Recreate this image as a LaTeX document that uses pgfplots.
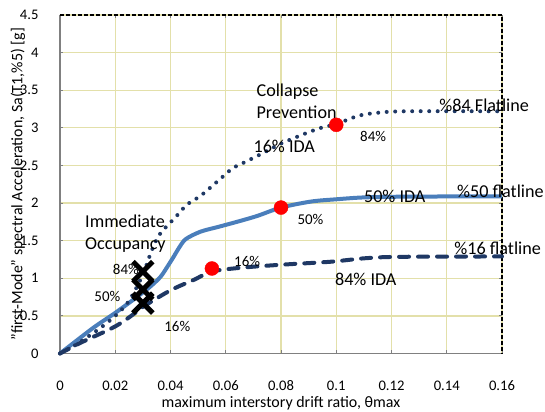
\documentclass[border=0pt]{standalone}
\usepackage{pgfplots}
\pgfplotsset{compat=1.18}
\usepackage{fontspec}
\setmainfont{Carlito}
\definecolor{navy}{RGB}{31,56,100}
\definecolor{midblue}{RGB}{74,126,187}
\newcommand{\fbig}{\fontsize{18.2}{22.3}\selectfont}
\newcommand{\fsmall}{\fontsize{15}{18}\selectfont}
\begin{document}
\begin{tikzpicture}
\begin{axis}[
  scale only axis, width=442bp, height=338.5bp,
  xmin=0, xmax=0.16, ymin=0, ymax=4.5,
  xtick={0,0.02,0.04,0.06,0.08,0.1,0.12,0.14,0.16},
  xticklabels={0,0.02,0.04,0.06,0.08,0.1,0.12,0.14,0.16},
  ytick={0,0.5,1,1.5,2,2.5,3,3.5,4,4.5},
  yticklabels={0,0.5,1,1.5,2,2.5,3,3.5,4,4.5},
  scaled x ticks=false, scaled y ticks=false,
  tick align=inside, major tick length=3.5bp,
  major tick style={draw=black!50, line width=1bp},
  ticklabel style={font=\fontsize{14.7}{17}\selectfont},
  xticklabel style={anchor=center, yshift=-32bp},
  yticklabel style={anchor=east, xshift=-18bp},
  xmajorgrids=true, ymajorgrids=true,
  major grid style={draw=olive!25, line width=1.3bp},
  axis line style={draw=none},
  clip=false,
  xlabel={maximum interstory drift ratio, θmax},
  ylabel={"first-Mode" spectral Acceleration, Sa(T1,\%5) [g]},
  every axis x label/.style={at={([yshift=-50bp]rel axis cs:0.5,0)}, anchor=center, font=\fontsize{16}{19}\selectfont},
  every axis y label/.style={at={([xshift=-42bp]rel axis cs:0,0.5)}, anchor=center, rotate=90, font=\fontsize{16}{19}\selectfont},
]
\coordinate (sw) at (rel axis cs:0,0);
\coordinate (ne) at (rel axis cs:1,1);
\draw[draw=black!50, line width=1.4bp] (rel axis cs:0,1) -- (rel axis cs:0,0) -- (rel axis cs:1,0);
\draw[draw=black, line width=1.4bp, dash pattern=on 4bp off 2bp] (rel axis cs:0,1) -- (rel axis cs:1,1) -- (rel axis cs:1,0);

% 50% IDA (solid)
\addplot[midblue, line width=4bp, smooth, tension=0.5] coordinates {
(0,0) (0.012,0.34) (0.02,0.54) (0.028,0.755) (0.0327,0.89) (0.0364,1.02) (0.0388,1.15)
(0.0412,1.29) (0.043,1.40) (0.0455,1.52) (0.0509,1.62) (0.058,1.69) (0.065,1.76)
(0.0715,1.83) (0.08,1.94) (0.0909,2.02) (0.1,2.05) (0.11,2.075) (0.125,2.085) (0.16,2.09)};
% 16% flatline (dashed)
\addplot[navy, line width=4bp, line cap=round, dash pattern=on 10bp off 9bp, smooth, tension=0.5] coordinates {
(0,0) (0.0073,0.14) (0.02,0.36) (0.028,0.56) (0.03,0.62) (0.04,0.84) (0.0485,0.98)
(0.055,1.09) (0.0655,1.14) (0.08,1.18) (0.098,1.22) (0.11,1.265) (0.1225,1.285) (0.16,1.29)};
% 84% (dotted)
\addplot[navy, line width=4bp, line cap=round, dash pattern=on 0bp off 8.5bp, smooth, tension=0.5] coordinates {
(0,0) (0.005,0.1) (0.01,0.22) (0.015,0.35) (0.02,0.5) (0.025,0.7) (0.03,1.05) (0.033,1.35)
(0.036,1.58) (0.042,1.82) (0.046,1.98) (0.051,2.1) (0.058,2.32) (0.0624,2.46) (0.0667,2.54)
(0.0727,2.65) (0.08,2.79) (0.0885,2.92) (0.0945,3.0) (0.1,3.05) (0.108,3.16) (0.115,3.2)
(0.125,3.22) (0.16,3.22)};
% red points
\addplot[only marks, mark=*, mark size=7bp, mark options={fill=red, draw=red}] coordinates {
(0.055,1.13) (0.08,1.94) (0.1,3.04)};
% X marks
\addplot[only marks, mark=x, mark size=14bp, black, mark options={solid, line width=5bp}] coordinates {
(0.03,1.09) (0.03,0.85) (0.03,0.67)};

% annotations
\node[anchor=west, align=left, font=\fbig] at (axis cs:0.0699,3.35) {Collapse\\Prevention};
\node[anchor=west, font=\fbig] at (axis cs:0.0688,2.75) {16\% IDA};
\node[anchor=west, font=\fsmall] at (axis cs:0.1074,2.88) {84\%};
\node[anchor=west, font=\fbig] at (axis cs:0.1361,3.30) {\%84 Flatline};
\node[anchor=west, font=\fbig] at (axis cs:0.1088,2.09) {50\% IDA};
\node[anchor=west, font=\fbig] at (axis cs:0.1425,2.15) {\%50 flatline};
\node[anchor=west, font=\fbig] at (axis cs:0.1415,1.40) {\%16 flatline};
\node[anchor=west, font=\fbig] at (axis cs:0.0983,0.98) {84\% IDA};
\node[anchor=west, font=\fsmall] at (axis cs:0.0847,1.78) {50\%};
\node[anchor=west, font=\fsmall] at (axis cs:0.0618,1.23) {16\%};
\node[anchor=west, align=left, font=\fbig] at (axis cs:0.00785,1.59) {Immediate\\Occupancy};
\node[anchor=west, font=\fsmall] at (axis cs:0.0179,1.12) {84\%};
\node[anchor=west, font=\fsmall] at (axis cs:0.0112,0.755) {50\%};
\node[anchor=west, font=\fsmall] at (axis cs:0.0365,0.356) {16\%};
\end{axis}
\pgfresetboundingbox
\path ([shift={(-60bp,-58.5bp)}]sw) rectangle ([shift={(43bp,15bp)}]ne);
\end{tikzpicture}
\end{document}
